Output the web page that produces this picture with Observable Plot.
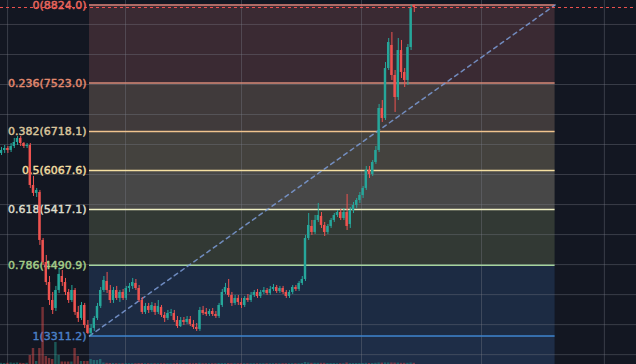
<!DOCTYPE html>
<html><head><meta charset="utf-8">
<script src="https://cdn.jsdelivr.net/npm/d3@7"></script>
<script src="https://cdn.jsdelivr.net/npm/@observablehq/plot@0.6"></script>
<style>
html,body{margin:0;padding:0;background:#131722;}
#wrap{position:relative;width:636px;height:364px;background:#131722;overflow:hidden;}
#wrap svg{position:absolute;left:0;top:0;}
</style></head><body><div id="wrap"></div>
<script>
// candle OHLC (index 0..129)
const open = [6351,6401,6434,6401,6467,6534,6601,6517,6467,6484,5818,5685,5701,4902,4535,4202,3902,3769,4069,4302,
4202,4036,3902,4069,3703,3603,3819,3486,3353,3436,3603,3803,4069,4219,4069,3902,4069,3936,4036,3936,
4102,4136,4186,4102,3902,3703,3803,3736,3803,3703,3786,3653,3603,3686,3686,3569,3469,3569,3536,3586,
3503,3453,3420,3736,3703,3669,3719,3669,3636,3819,4036,4102,3986,3853,3936,3869,3819,3936,3902,3986,
4036,3969,4036,4069,4019,4086,4119,4052,4102,4036,3969,4036,4119,4086,4186,4252,4935,5135,5035,5235,
5302,5152,5035,5135,5235,5318,5368,5268,5368,5168,5401,5485,5568,5651,5768,6068,6001,6201,6401,7100,
6934,7766,8150,7650,7283,8066,7700,7567,8116,8816];
const high = [6451,6484,6467,6517,6601,6634,6634,6534,6517,6517,5968,5768,5735,4935,4652,4302,4036,4136,4435,4402,
4269,4086,4152,4102,3803,3869,3853,3569,3503,3636,3853,4119,4302,4369,4152,4119,4136,4069,4086,4136,
4186,4269,4252,4152,3952,3853,3853,3869,3853,3902,3819,3703,3736,3753,3736,3636,3619,3619,3636,3636,
3569,3519,3786,3803,3769,3753,3769,3719,3853,4086,4186,4252,4036,3986,3986,3936,3969,4002,4036,4069,
4086,4069,4119,4102,4136,4169,4152,4136,4136,4069,4069,4152,4152,4219,4302,4985,5351,5235,5318,5518,
5368,5202,5168,5268,5351,5401,5418,5435,5668,5451,5535,5601,5701,5801,6134,6134,6234,6467,7167,7233,
7866,8266,8366,7733,8266,8233,7766,8166,8824,8824];
const low = [6317,6351,6351,6367,6434,6484,6467,6434,6434,5768,5635,5618,4819,4485,4152,3819,3669,3719,4019,4136,
3986,3853,3869,3653,3536,3569,3436,3336,3311.2,3386,3569,3769,4036,4019,3853,3853,3902,3869,3902,3902,
4036,4086,4069,3869,3669,3669,3686,3703,3653,3669,3619,3536,3569,3636,3536,3436,3453,3486,3503,3469,
3420,3386,3386,3653,3636,3636,3636,3603,3603,3786,4002,3952,3803,3819,3819,3769,3786,3869,3869,3952,
3936,3936,4002,3986,3986,4052,4019,4019,4002,3936,3936,4002,4052,4052,4152,4219,4902,4985,5002,5202,
5102,4968,5002,5102,5202,5285,5235,5235,5068,5102,5351,5435,5518,5601,5735,5934,5968,6168,6367,6867,
6900,7733,7567,7034,7233,7600,7450,7483,8066,8699];
const close = [6401,6434,6401,6467,6534,6601,6517,6467,6484,5818,5685,5735,4902,4535,4202,3902,3736,4069,4336,4202,
4036,3902,4069,3703,3603,3819,3486,3353,3436,3603,3803,4069,4236,4069,3902,4069,3936,4036,3936,4102,
4136,4202,4102,3902,3703,3803,3736,3819,3703,3803,3653,3603,3686,3703,3569,3469,3569,3536,3586,3503,
3453,3420,3736,3686,3669,3719,3669,3636,3819,4036,4119,3986,3853,3936,3869,3819,3936,3902,3986,4036,
3969,4036,4069,4019,4086,4119,4052,4102,4036,3969,4036,4119,4086,4186,4252,4935,5152,5035,5235,5318,
5152,5035,5135,5235,5318,5368,5268,5368,5135,5401,5485,5568,5651,5768,6068,6001,6201,6401,7100,6934,
7766,8199,7650,7283,8066,7700,7567,8116,8766,8782];
const volume = [120,100,120,150,120,150,120,100,120,900,1600,300,1600,5700,800,600,500,2200,900,250,
250,250,250,1600,800,300,300,300,500,400,400,500,150,120,100,100,80,80,80,80,
80,80,80,100,100,80,80,80,80,80,80,80,80,80,80,100,80,80,80,80,
80,100,120,80,80,80,80,80,100,100,100,100,80,80,80,80,80,80,80,80,
80,80,80,80,80,80,80,80,80,80,80,80,80,80,100,200,150,120,120,120,
120,120,100,100,100,80,80,80,150,100,100,100,100,100,120,100,100,120,150,140,
150,150,150,140,140,120,120,120,150,120];

// Fibonacci retracement
const fibLevels = [0, 0.236, 0.382, 0.5, 0.618, 0.786, 1];
const fibPrices = [8824.0, 7523.0, 6718.1, 6067.6, 5417.1, 4490.9, 3311.2];
const fibStart = 27.5, fibEnd = 173;   // candle-index anchors of the drawing
const priceTicks = [3000,3500,4000,4500,5000,5500,6000,6500,7000,7500,8000,8500];
const timeTicks = [1.9, 38.75, 75, 112.5, 150, 188.4];

const lineColors = ["#d9837a","#d98a78","#f0c48e","#f5e0a2","#efefc2","#a6d49c","#3f86d0"];
const labelColors = ["#e8675e","#e2896e","#d9c59c","#efdca0","#dcdccb","#a4cc88","#4a7fc4"];
const bandColors = ["#3a2a33","#403a3b","#44423e","#474747","#323934","#1c2b43","#1e2d47"];
const UP = "#26a69a", DOWN = "#ef5350";

const W = 636, H = 364;
const xDomain = [-0.3125, 198.44];
const yDomain = [2836, 8899];

const candles = close.map((c, i) => ({i, o: open[i], h: high[i], l: low[i], c, v: volume[i], up: c >= open[i]}));
const bands = fibPrices.map((p, k) => ({y1: p, y2: k + 1 < fibPrices.length ? fibPrices[k + 1] : yDomain[0], fill: bandColors[k]}));
const fibs = fibLevels.map((lv, k) => ({lv, p: fibPrices[k], label: `${lv}(${fibPrices[k].toFixed(1)})`, stroke: lineColors[k], color: labelColors[k]}));
const diag = [{x: fibStart, y: fibPrices[fibPrices.length - 1]}, {x: fibEnd, y: fibPrices[0]}];

const main = Plot.plot({
  width: W, height: H, margin: 0,
  x: {type: "linear", domain: xDomain, axis: null},
  y: {type: "linear", domain: yDomain, axis: null},
  style: {background: "#131722", fontFamily: "DejaVu Sans"},
  marks: [
    Plot.rect(bands, {x1: fibStart, x2: fibEnd, y1: "y1", y2: "y2", fill: d => d.fill}),
    Plot.ruleY(priceTicks, {stroke: "#787b86", strokeOpacity: 0.38}),
    Plot.ruleX(timeTicks, {stroke: "#787b86", strokeOpacity: 0.38}),
    Plot.ruleY(fibs, {y: "p", x1: fibStart, x2: fibEnd, stroke: d => d.stroke, strokeWidth: 1.5}),
    Plot.line(diag, {x: "x", y: "y", stroke: "#7b9bd6", strokeOpacity: 0.85, strokeDasharray: "4,4"}),
    Plot.text(fibs, {x: fibStart, y: "p", text: "label", fill: d => d.color, stroke: d => d.color, strokeWidth: 0.45, textAnchor: "end", dx: -3, fontSize: 11}),
    Plot.ruleX(candles, {x: "i", y1: "l", y2: "h", stroke: d => d.up ? UP : DOWN, strokeWidth: 1}),
    Plot.rect(candles, {x1: d => d.i - 0.38, x2: d => d.i + 0.38, y1: "o", y2: "c", fill: d => d.up ? UP : DOWN}),
    Plot.ruleY([close[close.length - 1]], {stroke: DOWN, strokeDasharray: "3,3", strokeWidth: 1})
  ]
});

const vol = Plot.plot({
  width: W, height: H, margin: 0,
  x: {type: "linear", domain: xDomain, axis: null},
  y: {type: "linear", domain: [0, 36400], axis: null},
  style: {background: "transparent"},
  marks: [
    Plot.rect(candles, {x1: d => d.i - 0.38, x2: d => d.i + 0.38, y1: 0, y2: "v", fill: d => d.up ? UP : DOWN, fillOpacity: 0.45})
  ]
});

const wrap = document.getElementById("wrap");
wrap.appendChild(main);
wrap.appendChild(vol);
</script></body></html>
